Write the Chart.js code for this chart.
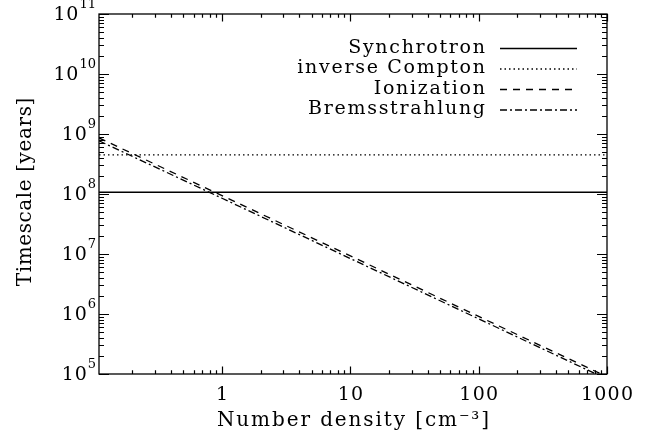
<!DOCTYPE html>
<html><head><meta charset="utf-8">
<script src="https://cdn.jsdelivr.net/npm/chart.js@4/dist/chart.umd.min.js"></script>
<style>html,body{margin:0;background:#fff}canvas{display:block}</style>
</head><body>
<canvas id="c" width="650" height="436"></canvas>
<script>
// values
var density = [0.11, 1, 10, 100, 1000];
var synchrotron = [1.07e8, 1.07e8, 1.07e8, 1.07e8, 1.07e8];
var compton = [4.5e8, 4.5e8, 4.5e8, 4.5e8, 4.5e8];
var ionization = [8.6e8, 9.4e7, 9.3e6, 9.1e5, 9.0e4];
var bremss = [7.7e8, 8.5e7, 8.4e6, 8.3e5, 8.2e4];
var xTicks = [1, 10, 100, 1000];
var yExp = [5, 6, 7, 8, 9, 10, 11];
var names = ['Synchrotron', 'inverse Compton', 'Ionization', 'Bremsstrahlung'];

var FONT = '"DejaVu Serif"';
var dashes = [[], [1.5, 3], [7, 6], [7, 3, 2, 3]];

function pts(ys) {
  return density.map(function (d, i) { return {x: d, y: ys[i]}; });
}

function logSteps(min, max) {
  var out = [];
  for (var d = Math.floor(Math.log10(min)); d <= Math.ceil(Math.log10(max)); d++) {
    for (var m = 1; m < 10; m++) {
      var v = m * Math.pow(10, d);
      if (v >= min * 0.999 && v <= max * 1.001) out.push({v: v, major: m == 1});
    }
  }
  return out;
}

function text(ctx, s, x, y, size, ls, align) {
  ctx.font = size + 'px ' + FONT;
  ctx.letterSpacing = ls + 'px';
  ctx.textAlign = align;
  // letterSpacing adds trailing space; compensate when right/center aligned
  var shift = align == 'right' ? ls : (align == 'center' ? ls / 2 : 0);
  ctx.fillText(s, x + shift, y);
}

var axesPlugin = {
  id: 'idlAxes',
  afterDraw: function (chart) {
    var ctx = chart.ctx, a = chart.chartArea, xs = chart.scales.x, ys = chart.scales.y;
    ctx.save();
    ctx.strokeStyle = '#000';
    ctx.lineWidth = 1.3;
    ctx.strokeRect(a.left, a.top, a.right - a.left, a.bottom - a.top);
    ctx.lineWidth = 1.2;
    ctx.beginPath();
    logSteps(xs.min, xs.max).forEach(function (t) {
      var px = Math.round(xs.getPixelForValue(t.v)) + 0.5, len = t.major ? 7.5 : 3.8;
      ctx.moveTo(px, a.bottom); ctx.lineTo(px, a.bottom - len);
      ctx.moveTo(px, a.top); ctx.lineTo(px, a.top + len);
    });
    logSteps(ys.min, ys.max).forEach(function (t) {
      var py = Math.round(ys.getPixelForValue(t.v)) + 0.5, len = t.major ? 10 : 5;
      ctx.moveTo(a.left, py); ctx.lineTo(a.left + len, py);
      ctx.moveTo(a.right, py); ctx.lineTo(a.right - len, py);
    });
    ctx.stroke();

    ctx.fillStyle = '#000';
    ctx.textBaseline = 'middle';

    // y tick labels 10^n
    yExp.forEach(function (e) {
      var py = ys.getPixelForValue(Math.pow(10, e));
      ctx.font = '13px ' + FONT;
      ctx.letterSpacing = '0px';
      var ew = ctx.measureText(String(e)).width;
      text(ctx, String(e), 96, py - 9, 13, 0, 'right');
      text(ctx, '10', 96 - ew - 1, py + 1, 19, 0.8, 'right');
    });

    // x tick labels
    xTicks.forEach(function (v) {
      text(ctx, String(v), xs.getPixelForValue(v), 395, 19, 1.2, 'center');
    });

    // axis titles
    text(ctx, 'Number density [cm\u207B\u00B3]', (a.left + a.right) / 2, 421, 20, 1.9, 'center');
    ctx.save();
    ctx.translate(26, 192);
    ctx.rotate(-Math.PI / 2);
    text(ctx, 'Timescale [years]', 0, 0, 20, 0.6, 'center');
    ctx.restore();

    // legend
    ctx.lineWidth = 1.3;
    names.forEach(function (n, i) {
      var yy = 48 + i * 20.5;
      text(ctx, n, 485, yy, 19, 1.7, 'right');
      ctx.setLineDash(dashes[i]);
      ctx.beginPath();
      ctx.moveTo(500, yy + 0.5); ctx.lineTo(577, yy + 0.5);
      ctx.stroke();
    });
    ctx.restore();
  }
};

function ds(label, ys, i) {
  return {
    label: label, data: pts(ys), borderColor: '#000', borderWidth: 1.3,
    borderDash: dashes[i], pointRadius: 0, fill: false, tension: 0
  };
}

new Chart(document.getElementById('c'), {
  type: 'line',
  data: {
    datasets: [
      ds(names[0], synchrotron, 0),
      ds(names[1], compton, 1),
      ds(names[2], ionization, 2),
      ds(names[3], bremss, 3)
    ]
  },
  options: {
    responsive: false,
    animation: false,
    devicePixelRatio: 1,
    layout: {padding: {left: 0, right: 43, top: 14, bottom: 0}},
    plugins: {legend: {display: false}, tooltip: {enabled: false}},
    scales: {
      x: {
        type: 'logarithmic', min: 0.11, max: 1000,
        grid: {display: false}, border: {display: false},
        ticks: {display: false},
        afterFit: function (s) { s.height = 62; }
      },
      y: {
        type: 'logarithmic', min: 1e5, max: 1e11,
        grid: {display: false}, border: {display: false},
        ticks: {display: false},
        afterFit: function (s) { s.width = 99; }
      }
    }
  },
  plugins: [axesPlugin]
});
</script>
</body></html>
